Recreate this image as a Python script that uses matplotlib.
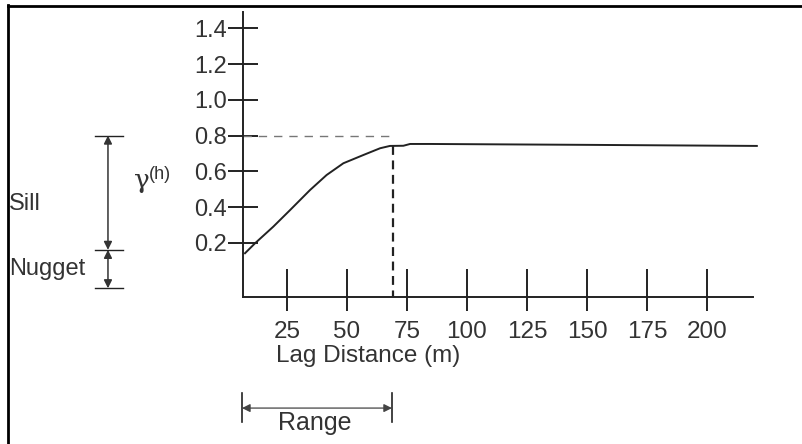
import matplotlib
matplotlib.use("Agg")
import matplotlib.pyplot as plt
from matplotlib.lines import Line2D

plt.rcParams["font.family"] = ["Liberation Sans", "DejaVu Sans"]

# semivariogram (schematic)
lag = [7.5, 11.7, 19.3, 26.3, 34.6, 41.5, 48.5, 56.8, 63.8, 67.9, 73.5, 76.3, 84.6, 150, 220.8]
gamma = [0.141, 0.197, 0.290, 0.383, 0.495, 0.579, 0.645, 0.691, 0.729, 0.742,
         0.743, 0.753, 0.753, 0.748, 0.742]

x_ticks = [25, 50, 75, 100, 125, 150, 175, 200]
y_ticks = [0.2, 0.4, 0.6, 0.8, 1.0, 1.2, 1.4]

sill = 0.80
nugget = 0.16
base = -0.055
range_m = 69.2

INK = "#222222"
TXT = "#333333"

W, H = 803, 444
fig = plt.figure(figsize=(W / 100, H / 100), dpi=100)
ax = fig.add_axes([243 / W, 1 - 297 / H, (753 - 243) / W, (297 - 12) / H])
ax.set_xlim(6.67, 219.2)
ax.set_ylim(-0.104, 1.492)

for s in ("top", "right"):
    ax.spines[s].set_visible(False)
for s in ("left", "bottom"):
    ax.spines[s].set_linewidth(1.4)
    ax.spines[s].set_color(INK)

# x ticks cross the axis: longer above, shorter below
ax.xaxis.remove_overlapping_locs = False
ax.set_xticks(x_ticks)
ax.set_xticks(x_ticks, minor=True)
ax.set_xticklabels([str(v) for v in x_ticks], fontsize=17.5, color=TXT)
ax.tick_params(axis="x", which="major", direction="in", length=20, width=1.4, color=INK, pad=17)
ax.tick_params(axis="x", which="minor", direction="out", length=10, width=1.4, color=INK)

ax.set_yticks(y_ticks)
ax.set_yticklabels([f"{v:.1f}" for v in y_ticks], fontsize=17, color=TXT)
ax.tick_params(axis="y", direction="inout", length=21, width=1.4, color=INK, pad=1)

ax.plot(lag, gamma, color=INK, lw=1.4, clip_on=False, zorder=3)

# sill reference and range marker
ax.plot([6.67, range_m], [sill, sill], color="#777777", lw=1.0, dashes=(6, 5))
ax.plot([range_m, range_m], [gamma[9], -0.104], color=INK, lw=1.6, dashes=(4, 2.5))

ax.text(58.75, -0.468, "Lag Distance (m)", fontsize=17.5, color=TXT, ha="center", va="baseline")

# gamma(h) axis symbol
ax.text(-35.5, 0.505, "γ", fontsize=19, family="DejaVu Serif", color=TXT, ha="center", va="baseline")
ax.annotate("(h)", xy=(-35.5, 0.505), xytext=(5, 7), textcoords="offset points",
            fontsize=13, color=TXT, ha="left", va="baseline", annotation_clip=False)

# sill / nugget brackets on the left
cap_x = (-55, -43.3)
arr_x = -49.6
for yv in (sill, nugget, base):
    ax.plot(cap_x, [yv, yv], color=INK, lw=1.0, clip_on=False)
arrow = dict(arrowstyle="<|-|>", color="#333333", lw=1.1, mutation_scale=12,
             shrinkA=0, shrinkB=0)
ax.annotate("", xy=(arr_x, sill), xytext=(arr_x, nugget), arrowprops=arrow, annotation_clip=False)
ax.annotate("", xy=(arr_x, nugget), xytext=(arr_x, base), arrowprops=arrow, annotation_clip=False)
ax.text(-90.8, 0.384, "Sill", fontsize=17, color=TXT, ha="left", va="baseline")
ax.text(-90.8, 0.019, "Nugget", fontsize=17, color=TXT, ha="left", va="baseline")

# range bracket under the axis
r0, r1 = 6.25, 68.75
ax.annotate("", xy=(r0, -0.726), xytext=(r1, -0.726), arrowprops=dict(
    arrowstyle="<|-|>", color="#444444", lw=0.9, mutation_scale=12, shrinkA=0, shrinkB=0),
    annotation_clip=False)
for xv in (r0, r1):
    ax.plot([xv, xv], [-0.642, -0.804], color=INK, lw=1.2, clip_on=False)
ax.text(36.7, -0.849, "Range", fontsize=18, color=TXT, ha="center", va="baseline")

# page frame (left and top edges)
fig.add_artist(Line2D([8 / W, 8 / W], [0, 1 - 5 / H], transform=fig.transFigure,
                      color="black", lw=2.0, solid_capstyle="projecting"))
fig.add_artist(Line2D([8 / W, 1], [1 - 6 / H, 1 - 6 / H], transform=fig.transFigure,
                      color="black", lw=2.0, solid_capstyle="projecting"))

fig.savefig("out.png", dpi=100)
